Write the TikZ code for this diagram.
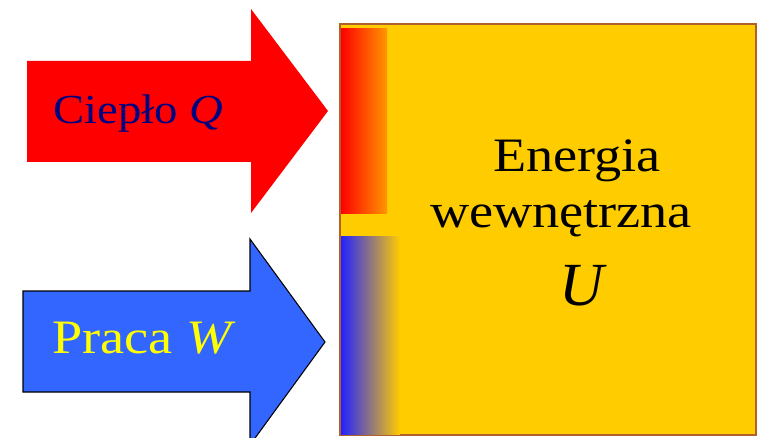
\documentclass[tikz,border=0pt]{standalone}
\usepackage{fontspec}
\setmainfont{Liberation Serif}
\newcommand{\widetxt}[1]{\scalebox{1.13}[1]{#1}}
\begin{document}
\begin{tikzpicture}[x=0.75pt,y=-0.75pt,
  heatcol/.style={fill=red},
  workcol/.style={fill=workblue,draw=black,line width=0.8pt},
  lbl/.style={inner sep=0pt,anchor=base west},
  ctr/.style={inner sep=0pt,anchor=base}]
\definecolor{workblue}{HTML}{3366FF}
\definecolor{boxyellow}{HTML}{FFCC00}
\definecolor{boxedge}{HTML}{B0602A}
\definecolor{navytext}{HTML}{000080}
\definecolor{workyellow}{HTML}{FFFF00}
\definecolor{stripblue}{HTML}{2222FF}
\useasboundingbox (0,0) rectangle (759,438);
\clip (0,0) rectangle (759,438);
% box
\path[fill=boxyellow,draw=boxedge,line width=1pt] (340,24) rectangle (756,435);
\shade[left color=red,right color=orange!70!boxyellow] (341,29) rectangle (387,214);
\shade[left color=stripblue,right color=boxyellow] (341,236) rectangle (400,434);
% arrows
\path[heatcol] (27,61) -- (251,61) -- (251,9) -- (328,111) -- (251,213) -- (251,162) -- (27,162) -- cycle;
\path[workcol] (23,291) -- (250,291) -- (250,239) -- (325,342) -- (250,445) -- (250,392) -- (23,392) -- cycle;
% labels
\node[lbl,text=navytext,font=\fontsize{31}{36}\selectfont] (heat) at (53,124) {\widetxt{Ciepło \textit{Q}}};
\node[lbl,text=workyellow,font=\fontsize{36}{40}\selectfont] (work) at (52,353) {\widetxt{Praca \textit{W}}};
\node[ctr,font=\fontsize{36}{40}\selectfont] (e1) at (577,172) {\widetxt{Energia}};
\node[ctr,font=\fontsize{36}{40}\selectfont] (e2) at (561,228) {\widetxt{wewnętrzna}};
\node[ctr,font=\fontsize{46}{50}\selectfont\itshape] (e3) at (582,305) {U};
\end{tikzpicture}
\end{document}
